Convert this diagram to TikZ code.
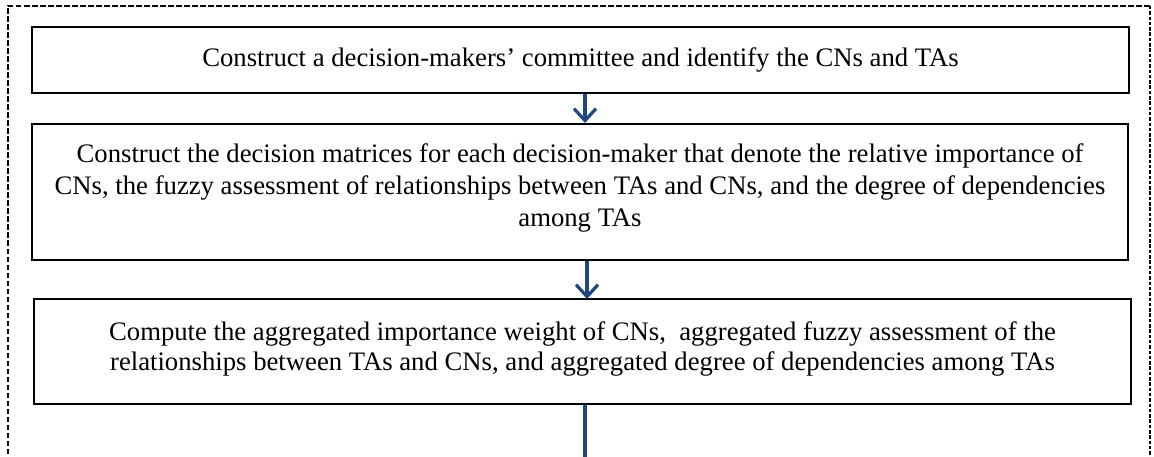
\documentclass[tikz,border=0pt]{standalone}
\usepackage{fontspec}
\setmainfont{Liberation Serif}
\usetikzlibrary{arrows.meta}
\definecolor{flowblue}{RGB}{31,73,125}
\begin{document}
\begin{tikzpicture}[x=1pt,y=-1pt,
  stepbox/.style={draw=black,line width=2pt,rectangle,inner sep=0pt},
  steptext/.style={inner sep=0pt,align=center,font=\fontsize{26.7}{32}\selectfont},
  flow/.style={draw=flowblue,line width=3.2pt,-{Straight Barb[length=12pt,width=22pt]}},
  flowline/.style={draw=flowblue,line width=3.2pt},
  frame/.style={draw=black,line width=1.6pt,dash pattern=on 5.5pt off 2.5pt},
  frameright/.style={draw=black,line width=1.6pt,dash pattern=on 3.5pt off 1.8pt}]
\useasboundingbox (0,0) rectangle (1154,457);
% dashed outer frame, open at the bottom
\begin{scope}
  \clip (0,0) rectangle (1154,457);
  \draw[frame] (8,470) -- (8,6) -- (1150,6);
  \draw[frameright] (1150,6) -- (1150,470);
\end{scope}
% steps of the procedure
\node[stepbox,minimum width=1097pt,minimum height=66pt] (b1) at (580.5,60) {};
\node[steptext] (t1) at (b1.center)
  {Construct a decision-makers’ committee and identify the CNs and TAs};
\node[stepbox,minimum width=1096pt,minimum height=136pt] (b2) at (580,192) {};
\node[steptext] (t2) at ([yshift=4pt]b2.center)
  {Construct the decision matrices for each decision-maker that denote the relative importance of\\
   CNs, the fuzzy assessment of relationships between TAs and CNs, and the degree of dependencies\\
   among TAs};
\node[stepbox,minimum width=1097pt,minimum height=105pt] (b3) at (582.5,351.5) {};
\node[steptext,font=\fontsize{26.7}{30.5}\selectfont] (t3) at ([yshift=2.5pt]b3.center)
  {Compute the aggregated importance weight of CNs,\ \ aggregated fuzzy assessment of the\\
   relationships between TAs and CNs, and aggregated degree of dependencies among TAs};
\coordinate (tail) at (585,470);
% connectors
\draw[flow] ([xshift=4.5pt]b1.south) -- ([xshift=5pt]b2.north);
\draw[flow] ([xshift=7pt]b2.south) -- ([xshift=4.5pt,yshift=-1pt]b3.north);
\draw[flowline] ([xshift=2.5pt]b3.south) -- (tail);
\end{tikzpicture}
\end{document}
